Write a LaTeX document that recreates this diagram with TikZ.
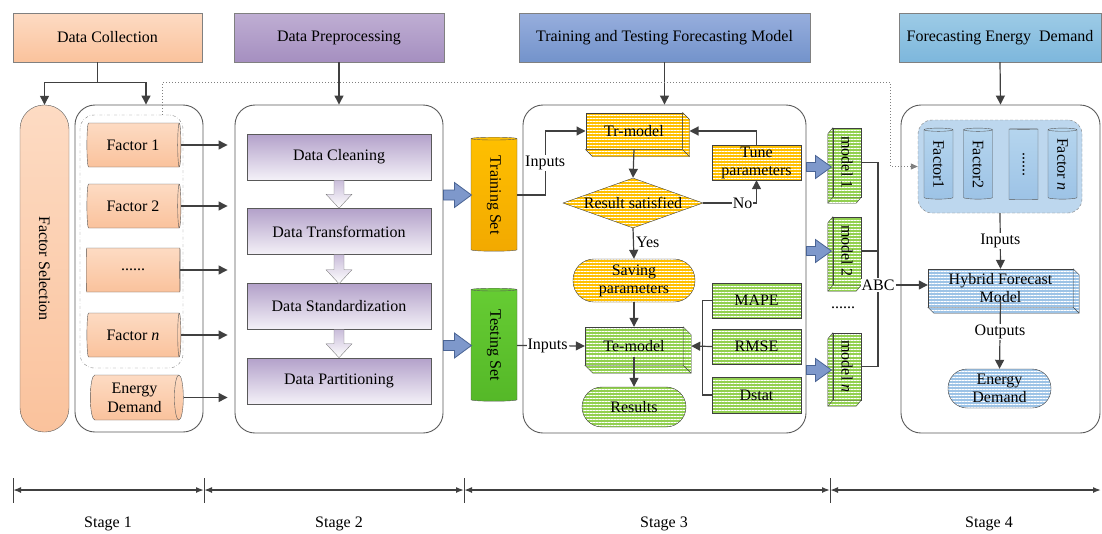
\documentclass[tikz,border=0pt]{standalone}
\usepackage{fontspec}
\setmainfont{Liberation Serif}
\usepackage{graphicx}
\usetikzlibrary{shapes.geometric,arrows.meta,patterns.meta}

\definecolor{linegray}{HTML}{404040}
\definecolor{boxgray}{HTML}{595959}
\definecolor{peach}{HTML}{FAC29C}
\definecolor{peachlight}{HTML}{FDDBC3}
\definecolor{lilac}{HTML}{B3A1CA}
\definecolor{lilaclight}{HTML}{F4F1F8}
\definecolor{plum}{HTML}{A58FC0}
\definecolor{plumlight}{HTML}{BFAED3}
\definecolor{navy}{HTML}{7393CB}
\definecolor{navylight}{HTML}{97AEDD}
\definecolor{cyan}{HTML}{7DB7DC}
\definecolor{cyanlight}{HTML}{9DCBE6}
\definecolor{steel}{HTML}{7E98CB}
\definecolor{steeldark}{HTML}{4A6494}
\definecolor{amber}{HTML}{FFC000}
\definecolor{amberdark}{HTML}{F2A900}
\definecolor{leaf}{HTML}{92D050}
\definecolor{grass}{HTML}{66CC33}
\definecolor{grassdark}{HTML}{55B828}
\definecolor{sky}{HTML}{9DC3E6}
\definecolor{skypale}{HTML}{BDD7EE}
\definecolor{skylight}{HTML}{B5D5EE}

\begin{document}
\begin{tikzpicture}[x=1pt, y=-1pt,
    every node/.style={font=\fontsize{16}{18}\selectfont},
    header/.style={draw=gray, minimum height=49pt, inner sep=0pt},
    stagebox/.style={draw=boxgray, line width=0.9pt, rounded corners=20pt, inner sep=0pt},
    line/.style={draw=linegray, line width=1.2pt},
    arr/.style={line, -{Triangle[length=9pt,width=9pt]}},
    hcyl/.style={cylinder, draw=boxgray, top color=peachlight, bottom color=peach,
        minimum width=44pt, minimum height=94pt, aspect=0.3, inner sep=0pt},
    vcyl/.style={cylinder, shape border rotate=90, draw=boxgray, inner sep=0pt},
    stepbox/.style={draw=boxgray, top color=lilac, bottom color=lilaclight,
        minimum width=184pt, minimum height=46pt},
    hollowarrow/.style={draw=gray, top color=lilac!70, bottom color=white, line join=miter},
    blockarrow/.style={draw=steeldark, fill=steel, line width=0.8pt, line join=miter},
    stripes/.style={draw=linegray, preaction={fill=#1},
        pattern={Lines[angle=0,distance=3pt,line width=1pt]}, pattern color=white},
    lbl/.style={fill=white, inner sep=1pt}
]
\useasboundingbox (0,0) rectangle (1102,533);

% headers
\node[header, top color=peachlight, bottom color=peach, minimum width=189pt] (dcol) at (107.5,37.5) {Data Collection};
\node[header, top color=plumlight, bottom color=plum, minimum width=210pt] (dpre) at (339,37.5) {Data Preprocessing};
\node[header, top color=navylight, bottom color=navy, minimum width=291pt] (ttm) at (664.5,37.5) {Training and Testing Forecasting Model};
\node[header, top color=cyanlight, bottom color=cyan, minimum width=202pt] (fed) at (1000,37.5) {Forecasting Energy\ \ Demand};

% stage 1
\node[draw=boxgray, top color=peachlight, bottom color=peach, rounded corners=24pt,
    minimum width=49pt, minimum height=327pt, inner sep=0pt] (fsel) at (44.5,268.5) {\rotatebox{-90}{Factor Selection}};
\node[stagebox, minimum width=128pt, minimum height=327pt] (s1box) at (139,268.5) {};
\node[draw=gray, dash dot, rounded corners=14pt, minimum width=103pt, minimum height=253pt] (fgrp) at (131.5,241.5) {};
\node[hcyl] (f1) at (133,145) {Factor 1};
\node[hcyl] (f2) at (133,206) {Factor 2};
\node[hcyl] (fd) at (133,270) {......};
\node[hcyl] (fn) at (133,335) {Factor \textit{n}};
\node[hcyl, minimum width=45pt, minimum height=93pt, align=center, font=\fontsize{16}{19}\selectfont] (ed) at (134.5,397.5) {Energy\\Demand};

% stage 2
\node[stagebox, minimum width=208pt, minimum height=328pt] (s2box) at (339,269) {};
\node[stepbox] (clean) at (339,157) {Data Cleaning};
\node[stepbox] (trans) at (339,231.5) {Data Transformation};
\node[stepbox] (std) at (339,306.5) {Data Standardization};
\node[stepbox] (part) at (339,381) {Data Partitioning};
\draw[hollowarrow] (clean.south) ++(-5,0) -- ++(0,14) -- ++(-8,0) -- ++(13,14) -- ++(13,-14) -- ++(-8,0) -- ++(0,-14) -- cycle;
\draw[hollowarrow] (trans.south) ++(-5,0) -- ++(0,15) -- ++(-8,0) -- ++(13,14) -- ++(13,-14) -- ++(-8,0) -- ++(0,-15) -- cycle;
\draw[hollowarrow] (std.south) ++(-5,0) -- ++(0,14) -- ++(-8,0) -- ++(13,14) -- ++(13,-14) -- ++(-8,0) -- ++(0,-14) -- cycle;
\node[vcyl, top color=amber, bottom color=amberdark, minimum width=46pt, minimum height=114pt, aspect=0.2] (trainset) at (494,195) {\rotatebox{-90}{Training Set}};
\node[vcyl, top color=grass, bottom color=grassdark, minimum width=46pt, minimum height=113pt, aspect=0.2] (testset) at (494,345.5) {\rotatebox{-90}{Testing Set}};
\draw[blockarrow] (s2box.east |- trainset) ++(0,-5) -- ++(11,0) -- ++(0,-7.5) -- ++(17,12.5) -- ++(-17,12.5) -- ++(0,-7.5) -- ++(-11,0) -- cycle;
\draw[blockarrow] (s2box.east |- testset) ++(0,-5) -- ++(11,0) -- ++(0,-7.5) -- ++(17,12.5) -- ++(-17,12.5) -- ++(0,-7.5) -- ++(-11,0) -- cycle;

% stage 3
\node[stagebox, minimum width=283pt, minimum height=328pt] (s3box) at (664.5,269) {};
\node[stripes=amber, minimum width=96pt, minimum height=36pt] (trm) at (634,131) {Tr-model};
\path[stripes=amber] (trm.north east) -- ++(7,7) -- ([shift={(7,7)}]trm.south east) -- ([shift={(7,7)}]trm.south west) -- (trm.south west) -- (trm.south east) -- cycle;
\draw[linegray] (trm.south east) -- ++(7,7);
\node[diamond, stripes=amber, aspect=2.8, minimum width=140pt, minimum height=50pt, inner sep=0pt] (res) at (633,203) {Result satisfied};
\node[stripes=amber, minimum width=89pt, minimum height=35pt, align=center, inner sep=0pt] (tune) at (756.5,162.5) {Tune\\parameters};
\node[stripes=amber, rounded corners=21pt, minimum width=122pt, minimum height=43pt, align=center, inner sep=0pt] (save) at (634,280.5) {Saving\\parameters};
\node[stripes=leaf, minimum width=98pt, minimum height=38pt] (tem) at (634,346) {Te-model};
\path[stripes=leaf] (tem.north east) -- ++(8,8) -- ([shift={(8,8)}]tem.south east) -- ([shift={(8,8)}]tem.south west) -- (tem.south west) -- (tem.south east) -- cycle;
\draw[linegray] (tem.south east) -- ++(8,8);
\node[stripes=leaf, rounded corners=20pt, minimum width=104pt, minimum height=40pt] (results) at (634,407) {Results};
\node[stripes=leaf, minimum width=89pt, minimum height=35pt] (mape) at (756.5,300.5) {MAPE};
\node[stripes=leaf, minimum width=89pt, minimum height=35pt] (rmse) at (756.5,346.5) {RMSE};
\node[stripes=leaf, minimum width=89pt, minimum height=36pt] (dstat) at (756.5,395) {Dstat};

\draw[arr] (trainset.east) -- ++(28,0) |- (trm.west) node[lbl, pos=0.25] {Inputs};
\draw[arr] (trm.south) -- (res.north);
\draw[arr] (res.east) -| (tune.south) node[lbl, pos=0.37] {No};
\draw[arr] (tune.north) |- ([xshift=7pt]trm.east);
\draw[arr] (res.south) -- (save.north) node[right, pos=0.45, inner sep=2pt] {Yes};
\draw[arr] (save.south) -- (tem.north);
\draw[arr] (testset.east) -- (tem.west) node[lbl, pos=0.45] {Inputs};
\draw[line] (mape.west) -- ++(-9,0) |- (dstat.west);
\draw[arr] (rmse.west) -- ([xshift=8pt]tem.east);
\draw[arr] ([yshift=8pt]tem.south) -- (results.north);

% trained models
\node[stripes=leaf, minimum width=28pt, minimum height=69pt, inner sep=0pt] (m1) at (847,162.5) {\rotatebox{-90}{model 1}};
\path[stripes=leaf] (m1.north west) -- ++(-5,6) -- ([shift={(-5,6)}]m1.south west) -- ([shift={(-5,6)}]m1.south east) -- (m1.south east) -- (m1.south west) -- cycle;
\draw[linegray] (m1.south west) -- ++(-5,6);
\node[stripes=leaf, minimum width=28pt, minimum height=68pt, inner sep=0pt] (m2) at (847,251) {\rotatebox{-90}{model 2}};
\path[stripes=leaf] (m2.north west) -- ++(-5,6) -- ([shift={(-5,6)}]m2.south west) -- ([shift={(-5,6)}]m2.south east) -- (m2.south east) -- (m2.south west) -- cycle;
\draw[linegray] (m2.south west) -- ++(-5,6);
\node[stripes=leaf, minimum width=28pt, minimum height=67pt, inner sep=0pt] (mn) at (847,366.5) {\rotatebox{-90}{model \textit{n}}};
\path[stripes=leaf] (mn.north west) -- ++(-5,6) -- ([shift={(-5,6)}]mn.south west) -- ([shift={(-5,6)}]mn.south east) -- (mn.south east) -- (mn.south west) -- cycle;
\draw[linegray] (mn.south west) -- ++(-5,6);
\node (mdots) at (843,308) {......};
\draw[blockarrow] ([yshift=-4.5pt]s3box.east |- m1) ++(0,-4.5) -- ++(9,0) -- ++(0,-7) -- ++(16,11.5) -- ++(-16,11.5) -- ++(0,-7) -- ++(-9,0) -- cycle;
\draw[blockarrow] (s3box.east |- m2) ++(0,-4.5) -- ++(9,0) -- ++(0,-7) -- ++(16,11.5) -- ++(-16,11.5) -- ++(0,-7) -- ++(-9,0) -- cycle;
\draw[blockarrow] ([yshift=-3.5pt]s3box.east |- mn) ++(0,-4.5) -- ++(9,0) -- ++(0,-7) -- ++(16,11.5) -- ++(-16,11.5) -- ++(0,-7) -- ++(-9,0) -- cycle;

% stage 4
\node[stagebox, minimum width=199pt, minimum height=328pt] (s4box) at (1000.5,269) {};
\node[draw=gray, fill=skypale, dash pattern=on 3pt off 2pt, rounded corners=14pt, minimum width=164pt, minimum height=93pt] (grp) at (1000,166.5) {};
\node[vcyl, top color=skylight, bottom color=sky, minimum width=29pt, minimum height=71pt, aspect=0.3] (g1) at (938.5,164.5) {\rotatebox{-90}{Factor1}};
\node[vcyl, top color=skylight, bottom color=sky, minimum width=29pt, minimum height=71pt, aspect=0.3] (g2) at (978,164.5) {\rotatebox{-90}{Factor2}};
\node[vcyl, top color=skylight, bottom color=sky, minimum width=29pt, minimum height=71pt, aspect=0.3] (g3) at (1023.5,164.5) {\rotatebox{-90}{......}};
\node[vcyl, top color=skylight, bottom color=sky, minimum width=29pt, minimum height=71pt, aspect=0.3] (g4) at (1062.5,164.5) {\rotatebox{-90}{Factor \textit{n}}};
\node[stripes=sky, minimum width=145pt, minimum height=38pt, align=center, inner sep=0pt] (hyb) at (1000.5,288) {Hybrid Forecast\\Model};
\path[stripes=sky] (hyb.north east) -- ++(6,6) -- ([shift={(6,6)}]hyb.south east) -- ([shift={(6,6)}]hyb.south west) -- (hyb.south west) -- (hyb.south east) -- cycle;
\draw[linegray] (hyb.south east) -- ++(6,6);
\node[stripes=sky, rounded corners=19pt, minimum width=103pt, minimum height=39pt, align=center, inner sep=0pt] (edem) at (999.5,388.5) {Energy\\Demand};
\draw[arr] (grp.south) -- (hyb.north) node[lbl, midway] {Inputs};
\draw[arr] ([yshift=6pt]hyb.south) -- (edem.north) node[lbl, pos=0.45] {Outputs};

% combining the models
\node[lbl] (abc) at (878,285) {ABC};
\draw[line] (m1.east) -| (abc.north);
\draw[line] (m2.east) -- (m2.east -| abc);
\draw[line] (mn.east) -| (abc.south);
\draw[arr] (abc.east) -- (abc.east -| hyb.west);

% header arrows
\draw[line] ([xshift=-10pt]dcol.south) -- ++(0,20) coordinate (split);
\draw[arr] (split) -| (fsel.north);
\draw[arr] (split) -| ([xshift=7pt]s1box.north);
\draw[arr] (dpre.south) -- (s2box.north);
\draw[arr] (ttm.south) -- (s3box.north);
\draw[arr] (fed.south) -- (s4box.north);
\coordinate (dstart) at (162,0);
\draw[gray, dotted, line width=1pt, -{Triangle[length=7pt,width=6pt]}] (fgrp.north -| dstart) -- ++(0,-32) -| ([xshift=-27pt]grp.west) -- (grp.west);

% factors into preprocessing
\draw[arr, shorten >=7pt] (f1.east) -- (f1.east -| s2box.west);
\draw[arr, shorten >=7pt] (f2.east) -- (f2.east -| s2box.west);
\draw[arr, shorten >=7pt] (fd.east) -- (fd.east -| s2box.west);
\draw[arr, shorten >=7pt] (fn.east) -- (fn.east -| s2box.west);
\draw[arr, shorten >=7pt] (ed.east) -- (ed.east -| s2box.west);

% stage bar
\coordinate (t0) at (13,490);
\coordinate (t1) at (204,490);
\coordinate (t2) at (464,490);
\coordinate (t3) at (830,490);
\coordinate (t4) at (1101,490);
\draw[linegray, line width=1.5pt, {Latex[length=8pt,width=6pt]}-{Latex[length=8pt,width=6pt]}] (t0) -- (t1);
\draw[linegray, line width=1.5pt, {Latex[length=8pt,width=6pt]}-{Latex[length=8pt,width=6pt]}] (t1) -- (t2);
\draw[linegray, line width=1.5pt, {Latex[length=8pt,width=6pt]}-{Latex[length=8pt,width=6pt]}] (t2) -- (t3);
\draw[linegray, line width=1.5pt, {Latex[length=8pt,width=6pt]}-{Latex[length=8pt,width=6pt]}] (t3) -- (t4);
\draw[linegray] (t0) ++(0,-12) -- ++(0,25);
\draw[linegray] (t1) ++(0,-12) -- ++(0,25);
\draw[linegray] (t2) ++(0,-12) -- ++(0,25);
\draw[linegray] (t3) ++(0,-12) -- ++(0,25);
\node (st1) at (108,524) {Stage 1};
\node (st2) at (339,524) {Stage 2};
\node (st3) at (664,524) {Stage 3};
\node (st4) at (989,524) {Stage 4};
\end{tikzpicture}
\end{document}
